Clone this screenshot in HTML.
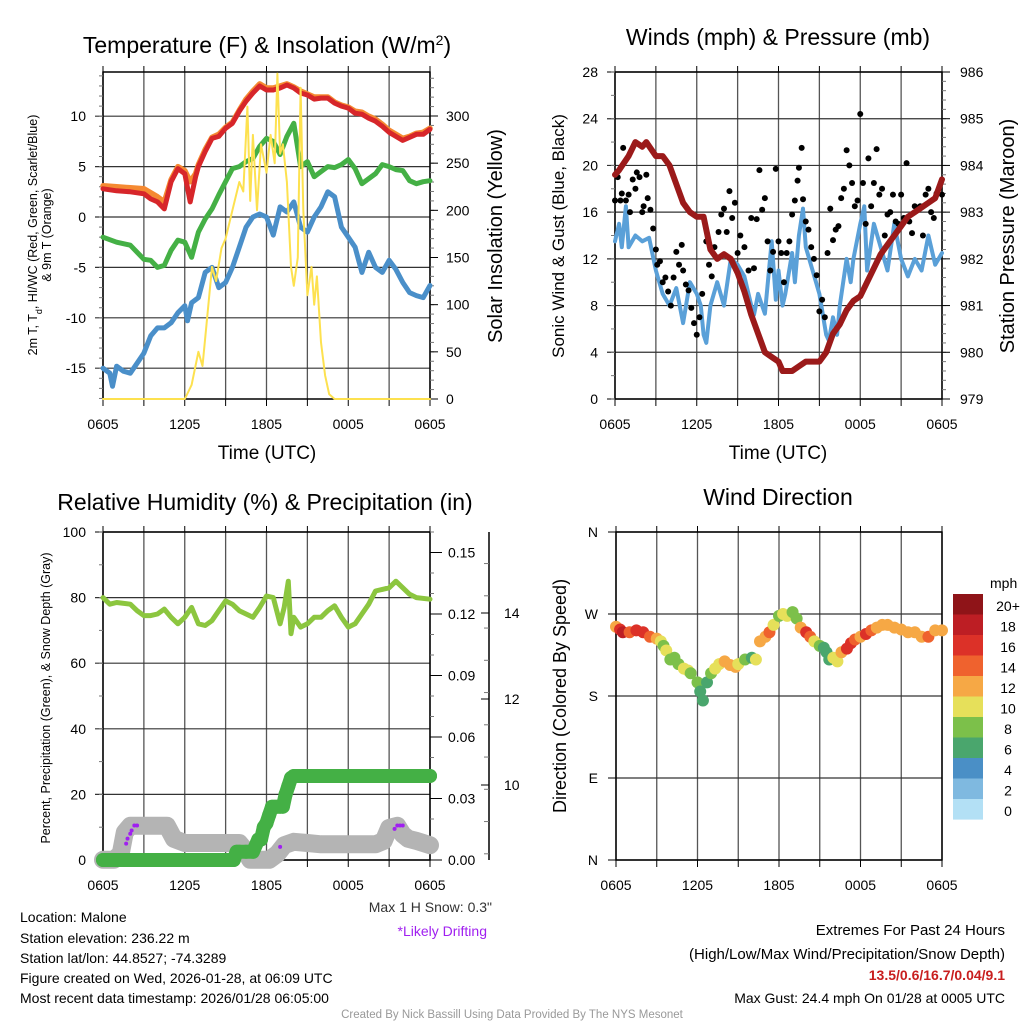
<!DOCTYPE html>
<html><head><meta charset="utf-8"><style>
html,body{margin:0;padding:0;background:#fff}
svg{display:block;font-family:"Liberation Sans",sans-serif}
</style></head><body>
<svg id="c" width="1024" height="1024" viewBox="0 0 1024 1024">
<text x="267" y="53" font-size="23" text-anchor="middle">Temperature (F) &amp; Insolation (W/m<tspan baseline-shift="super" font-size="14">2</tspan>)</text>
<text x="778" y="45" font-size="23" text-anchor="middle">Winds (mph) &amp; Pressure (mb)</text>
<text x="265" y="510" font-size="23" text-anchor="middle">Relative Humidity (%) &amp; Precipitation (in)</text>
<text x="778" y="505" font-size="23" text-anchor="middle">Wind Direction</text>
<text x="267" y="459" font-size="19" text-anchor="middle">Time (UTC)</text>
<text x="778" y="459" font-size="19" text-anchor="middle">Time (UTC)</text>
<text transform="translate(37,235) rotate(-90)" font-size="12.5" text-anchor="middle"><tspan x="0" dy="0">2m T, T<tspan baseline-shift="sub" font-size="9">d</tspan>, HI/WC (Red, Green, Scarlet/Blue)</tspan><tspan x="0" dy="14">&amp; 9m T (Orange)</tspan></text>
<text transform="translate(502,236) rotate(-90)" font-size="20" text-anchor="middle">Solar Insolation (Yellow)</text>
<text transform="translate(564,236) rotate(-90)" font-size="17" text-anchor="middle">Sonic Wind &amp; Gust (Blue, Black)</text>
<text transform="translate(1014,236) rotate(-90)" font-size="20" text-anchor="middle">Station Pressure (Maroon)</text>
<text transform="translate(50,698) rotate(-90)" font-size="12.5" text-anchor="middle">Percent, Precipitation (Green), &amp; Snow Depth (Gray)</text>
<text transform="translate(566,696) rotate(-90)" font-size="18" text-anchor="middle">Direction (Colored By Speed)</text>
<text x="492" y="912" font-size="14" text-anchor="end" fill="#333">Max 1 H Snow: 0.3"</text>
<text x="487" y="936" font-size="14" text-anchor="end" fill="#a020f0">*Likely Drifting</text>
<g font-size="14">
<text x="20" y="922">Location: Malone</text>
<text x="20" y="943">Station elevation: 236.22 m</text>
<text x="20" y="963">Station lat/lon: 44.8527; -74.3289</text>
<text x="20" y="983">Figure created on Wed, 2026-01-28, at 06:09 UTC</text>
<text x="20" y="1003">Most recent data timestamp: 2026/01/28 06:05:00</text>
</g>
<g font-size="15" text-anchor="end">
<text x="1005" y="935">Extremes For Past 24 Hours</text>
<text x="1005" y="959">(High/Low/Max Wind/Precipitation/Snow Depth)</text>
<text x="1005" y="980" fill="#c81e1e" font-weight="bold" font-size="14">13.5/0.6/16.7/0.04/9.1</text>
<text x="1005" y="1003" font-size="14">Max Gust: 24.4 mph On 01/28 at 0005 UTC</text>
</g>
<text x="512" y="1018" font-size="11.5" fill="#999" text-anchor="middle">Created By Nick Bassill Using Data Provided By The NYS Mesonet</text>
<text x="990" y="588" font-size="14">mph</text>
</svg>
<script>
// ---- data ----
const xTickLabels = ['0605','1205','1805','0005','0605'];
const tempHours = [0,1,2,3,3.5,4,4.5,5,5.5,6,6.4,6.8,7,7.5,8,8.5,9,9.5,10,10.5,11,11.5,12,12.5,13,13.5,14,14.5,15,15.5,16,16.5,17,17.5,18,18.5,19,19.5,20,20.5,21,21.5,22,22.5,23,23.5,24];
const temp2m = [2.8,2.6,2.5,2.3,1.8,1.5,0.8,3.5,4.8,4.3,1.5,4.0,5.0,6.5,7.8,8.0,8.8,9.3,10.5,11.5,12.3,13.0,12.6,12.6,12.8,13.1,12.8,12.3,12.1,11.7,11.8,11.8,11.3,11.0,10.8,10.3,10.2,9.8,9.5,9.0,8.4,8.0,7.6,7.9,8.2,8.2,8.7];
const temp9m = [3.1,3.0,2.9,2.8,2.4,2.0,1.5,3.7,5.0,4.6,3.5,4.3,5.2,6.7,7.9,8.2,8.9,9.4,10.6,11.7,12.5,13.2,12.8,12.8,13.0,13.2,12.9,12.5,12.2,11.9,11.9,11.9,11.4,11.1,10.9,10.5,10.4,10.0,9.7,9.2,8.6,8.2,7.8,8.0,8.3,8.4,8.8];
const dewHours = [0,1,2,3,3.5,4,4.5,5,5.5,6,6.5,7,7.5,8,8.5,9,9.5,10,10.5,11,11.5,12,12.5,13,13.5,14,14.5,15,15.5,16,16.5,17,17.5,18,18.5,19,19.5,20,20.5,21,21.5,22,22.5,23,23.5,24];
const dewpoint = [-2,-2.5,-2.8,-4.2,-4.3,-5,-4.8,-3.3,-2.3,-2.5,-4,-1.5,-0.2,0.8,2.2,3.5,4.8,5,5.5,5.8,7,7.8,7.5,6.2,8,9.3,5,5.5,4,4.5,5,4.9,5.2,5.7,4.8,3.3,3.8,4.3,5.2,5,4.7,4.6,3.6,3.3,3.5,3.6];
const wcHours = [0,0.5,0.7,1,1.5,2,2.5,3,3.5,4,4.5,5,5.5,6,6.2,6.5,7,7.5,8,8.5,9,9.5,10,10.5,11,11.5,12,12.5,13,13.5,14,14.5,15,15.5,16,16.5,17,17.5,18,18.5,19,19.5,20,20.5,21,21.5,22,22.5,23,23.5,24];
const windChill = [-15,-15.5,-16.8,-14.8,-15.3,-15.5,-14.5,-13.5,-11.8,-11,-11,-10.5,-9.5,-8.8,-10.3,-8.5,-8,-5.5,-5,-7,-6.5,-5,-3,-1,0,0.3,0,-1.8,1,0.5,1.5,-1,-1.5,0,1,2.5,2,-1,-2,-3,-5.5,-3.5,-5,-5.5,-4.3,-5.2,-6.5,-7.5,-7.8,-8,-6.8];
const solHours = [0,6,6.5,7,7.3,7.6,8,8.3,8.7,9,9.5,10,10.3,10.6,10.8,11,11.3,11.6,12,12.3,12.6,12.8,13,13.2,13.5,13.8,14,14.3,14.5,14.7,15,15.3,15.5,15.7,16,16.3,16.6,17,24];
const insolation = [0,0,15,50,35,80,140,125,160,170,200,230,220,310,210,280,200,270,240,280,250,345,260,270,230,140,120,150,330,200,110,140,100,130,60,25,5,0,0];
const sonicHours = [0,0.3,0.5,0.8,1,1.5,2,2.5,3,3.5,4,4.5,5,5.5,6,6.3,6.5,6.7,7,7.5,8,8.5,9,9.5,10,10.2,10.5,11,11.5,11.8,12,12.3,12.5,13,13.2,13.5,13.8,14,14.5,15,15.5,15.7,16,16.3,16.5,17,17.3,17.5,18,18.3,18.5,19,19.5,20,20.5,21,21.5,22,22.5,23,23.5,24];
const sonicWind = [13.5,15,13,16.5,13,14,13.5,13.8,11,9,8,9.5,6.5,10,9,8,5.5,4.8,8,10,8,12,11.5,10.5,8,7.2,9,7.3,13.5,8.5,11,8,9,12.5,10,14,16.3,13,11,9,5.5,5,7,5.5,8,12,10,12,15,16.5,11,15,13,11,15,12,10.5,12,11,14,11.5,12.5];
const gustHours = [0,0.2,0.4,0.5,0.6,0.8,1,1.1,1.3,1.5,1.6,1.8,2,2.1,2.3,2.4,2.6,2.8,3,3.1,3.3,3.5,3.7,3.9,4.1,4.3,4.5,4.7,4.9,5,5.2,5.4,5.6,5.8,6,6.2,6.4,6.7,6.9,7.1,7.3,7.6,7.8,8,8.2,8.4,8.6,8.8,9,9.2,9.5,9.8,10,10.2,10.4,10.6,10.8,11,11.2,11.4,11.6,11.8,12,12.2,12.4,12.6,12.8,13,13.2,13.4,13.5,13.7,13.8,14,14.2,14.4,14.6,14.8,15,15.2,15.4,15.6,15.8,16,16.2,16.4,16.6,16.8,17,17.2,17.4,17.6,17.8,18,18.2,18.4,18.6,18.8,19,19.2,19.4,19.6,19.8,20,20.2,20.4,20.6,20.8,21,21.2,21.4,21.6,21.8,22,22.2,22.4,22.6,22.8,23,23.2,23.4,23.6,24];
const gusts = [17,19,17,17.6,21.5,17,17.5,16,18.8,18,19.4,19,16,16.5,19.2,17.2,16.2,14.6,12.8,11.5,11.8,10,10.4,9.2,8,10.4,12.6,11.5,13.2,11,9.8,9.3,7.8,6.5,5.5,7,9,13.5,11.5,10.5,13,14.3,15.8,16.3,14.3,17.8,15.5,16.8,12.5,14,13,11,15.5,11.2,15.4,19.6,16.2,17.2,13.5,11,12.6,19.7,13.5,12.5,10,12.5,13.5,15.8,17,18.7,19.8,21.5,17.1,15.2,14.5,13,12,10.6,7.5,8.5,7,12.5,16.3,13.6,14.5,14.8,17.2,18,21.3,20,18.5,16.5,17,24.4,18.5,15,20.6,16.5,18.5,21.4,17.5,18,14,15.8,16,17.5,15.2,15,17.5,15.5,20.2,15.2,14.2,16.5,16.2,16.5,14,17.5,18,16,15.5,17.6,17.5];
const presHours = [0,0.3,1,1.5,2,2.3,3,3.5,4,4.5,5,5.5,6,6.5,7,7.5,8,8.5,9,9.5,10,10.5,11,11.5,12,12.3,13,13.5,14,14.5,15,15.5,16,16.5,17,17.5,18,18.5,19,19.5,20,20.5,21,21.5,22,22.5,23,23.5,24];
const pressure = [983.8,983.9,984.2,984.5,984.4,984.5,984.2,984.2,984.0,983.6,983.2,983.0,982.9,982.9,982.2,982.0,982.1,982.0,981.7,981.3,980.8,980.4,980.0,979.9,979.8,979.6,979.6,979.7,979.8,979.8,979.8,980.0,980.4,980.6,980.9,981.1,981.2,981.5,981.8,982.1,982.3,982.5,982.7,982.9,983.0,983.1,983.2,983.3,983.7];
const rhHours = [0,0.5,1,2,2.5,3,3.5,4,4.5,5,5.5,6,6.5,7,7.5,8,8.5,9,9.5,10,10.5,11,11.5,12,12.5,13,13.3,13.6,13.8,14,14.5,15,15.5,16,16.5,17,17.5,18,18.5,19,19.5,20,20.5,21,21.5,22,22.5,23,24];
const relHum = [80,78,78.5,78,76,74.5,74.5,75,76.5,74,72,74,77,72,71.5,73,76,79,78,76,75,74,77,80.5,80,72,77,85,69,74,71,72,74,74,76,77.5,74,71,72,75,78,82,82.5,83,85,83,81,80,79.5];
const precipHours = [0,1,2,3,4,5,6,7,8,9,9.6,9.8,10,10.5,11,11.4,11.6,11.8,12,12.2,12.4,12.6,12.8,13,13.2,13.4,13.6,13.8,14,15,16,17,18,19,20,21,22,23,24];
const precipIn = [0,0,0,0,0,0,0,0,0,0,0,0.004,0.004,0.004,0.004,0.01,0.01,0.016,0.018,0.022,0.026,0.026,0.026,0.026,0.026,0.032,0.036,0.04,0.041,0.041,0.041,0.041,0.041,0.041,0.041,0.041,0.041,0.041,0.041];
const snowHours = [0,0.8,1.3,1.6,2,3,4,4.7,5.2,6,7,8,9,10,10.4,10.8,11.5,12.2,12.8,13.3,14,15,16,17,18,19,20,20.6,21,21.6,22,22.4,23,23.5,24];
const snowDepth = [8.26,8.26,8.4,8.9,9.05,9.05,9.05,9.05,8.75,8.65,8.65,8.65,8.65,8.65,8.5,8.26,8.26,8.26,8.4,8.6,8.68,8.65,8.62,8.62,8.62,8.62,8.62,8.7,9.0,9.05,8.85,8.75,8.7,8.65,8.6];
const driftHours = [1.7,1.8,2.0,2.1,2.3,2.5,13.0,21.4,21.6,21.8,22.0];
const driftPct = [5,6.5,8,9,10.5,10.5,4,9.5,10.5,10.5,10.5];
const dirHours = [0,0.3,0.5,1,1.5,2,2.5,3,3.3,3.5,3.7,4,4.3,4.6,5,5.3,5.5,6,6.2,6.4,6.7,7,7.3,7.6,8,8.4,8.8,9,9.5,10,10.3,10.6,11,11.3,11.6,12,12.3,12.6,13,13.3,13.6,14,14.3,14.6,15,15.3,15.5,15.7,16,16.3,16.6,17,17.3,17.6,18,18.4,18.8,19.2,19.6,20,20.5,21,21.5,22,22.5,23,23.5,24];
const dirDeg = [256,253,250,250,252,250,245,243,240,235,230,220,222,215,210,208,205,195,185,175,195,205,210,215,218,214,212,215,220,222,220,240,245,250,258,268,270,268,272,265,255,250,245,240,235,233,228,220,222,218,228,232,238,242,245,248,252,255,258,258,255,253,250,250,245,245,252,252];
const dirSpeed = [12,16,17,14,15,15,14,12,10,8,10,7,8,8,10,10,8,7,6,5,6,8,10,10,12,12,12,10,8,6,10,11,12,14,9,8,10,9,7,8,12,16,14,10,8,6,5,6,10,10,12,16,16,14,12,16,14,12,11,12,12,12,12,11,12,14,12,12];
const cbLabels = ['20+','18','16','14','12','10','8','6','4','2','0'];
const cbColors = ['#8f1418','#bd1e24','#dc3128','#ef622e','#f6a845','#e6e05a','#7cc04a','#4aa66d','#4a8fc6','#7fb9e0','#b3e0f5'];
const tempTicks = [-15,-10,-5,0,5,10];
const solTicks = [0,50,100,150,200,250,300];
const windTicks = [0,4,8,12,16,20,24,28];
const presTicks = [979,980,981,982,983,984,985,986];
const rhTicks = [0,20,40,60,80,100];
const precTicks = ['0.00','0.03','0.06','0.09','0.12','0.15'];
const snowTicks = [10,12,14];
const dirTicks = ['N','E','S','W','N'];

// ---- drawing ----
const NS='http://www.w3.org/2000/svg';
const svg=document.getElementById('c');
function mk(tag,attrs,parent){const e=document.createElementNS(NS,tag);for(const k in attrs)e.setAttribute(k,attrs[k]);(parent||svg).appendChild(e);return e;}
function lin(d0,d1,r0,r1){return v=>r0+(v-d0)*(r1-r0)/(d1-d0);}
function poly(xs,ys,fx,fy,color,w,name){
  const pts=xs.map((h,i)=>fx(h).toFixed(1)+','+fy(ys[i]).toFixed(1)).join(' ');
  const e=mk('polyline',{points:pts,fill:'none',stroke:color,'stroke-width':w,'stroke-linejoin':'round','stroke-linecap':'round'});
  
  
  return e;
}
function frame(x0,x1,y0,y1,name,fy,hticks){
  const g=mk('g',{});
  
  
  const fx=lin(0,24,x0,x1);
  for(let h=0;h<=24;h+=3){
    const l=mk('line',{x1:fx(h),x2:fx(h),y1:y0,y2:y1,stroke:'#555','stroke-width':1.3},g);
    
    
    const t=mk('line',{x1:fx(h),x2:fx(h),y1:y0-6,y2:y0,stroke:'#000','stroke-width':1},g);
    
    
    const b=mk('line',{x1:fx(h),x2:fx(h),y1:y1,y2:y1+7,stroke:'#000','stroke-width':1},g);
    
    
  }
  hticks.forEach(v=>{
    const l=mk('line',{x1:x0-8,x2:x1,y1:fy(v),y2:fy(v),stroke:'#333','stroke-width':1.2},g);
    
    
  });
  const r=mk('rect',{x:x0,y:y0,width:x1-x0,height:y1-y0,fill:'none',stroke:'#000','stroke-width':1.5},g);
  
  
  xTickLabels.forEach((s,i)=>{
    const t=mk('text',{x:fx(i*6),y:y1+30,'font-size':14,'text-anchor':'middle'},g);
    t.textContent=s;
    
    
  });
  return fx;
}
function ylabels(vals,texts,fy,x,anchor,name,size){
  vals.forEach((v,i)=>{
    const t=mk('text',{x:x,y:fy(v)+5,'font-size':size||14,'text-anchor':anchor});
    t.textContent=texts?texts[i]:v;
    
    
  });
}
function minor(x,dir,from,to,step,fy,len){
  for(let v=from;v<=to+1e-9;v+=step){
    const l=mk('line',{x1:x,x2:x+dir*len,y1:fy(v),y2:fy(v),stroke:'#777','stroke-width':1});
    
    
  }
}

// Panel 1: temperature
const fyT=lin(0,10,217,116.2), fyS=lin(0,300,399,116);
const fx1=frame(103,430,72,399,'temp-panel',fyT,tempTicks);
minor(103,-1,-18,14,1,fyT,4);
minor(430,1,0,340,10,fyS,4);
solTicks.forEach(v=>{const l=mk('line',{x1:430,x2:438,y1:fyS(v),y2:fyS(v),stroke:'#000'});});
ylabels(tempTicks,null,fyT,86,'end','temp-tick-label');
ylabels(solTicks,null,fyS,446,'start','insolation-tick-label');
poly(tempHours,temp9m,fx1,fyT,'#f58a32',5.5,'temp-9m-line');
poly(tempHours,temp2m,fx1,fyT,'#d7262a',5,'temp-2m-line');
poly(dewHours,dewpoint,fx1,fyT,'#44b045',5,'dewpoint-line');
poly(wcHours,windChill,fx1,fyT,'#4a8fc9',5,'windchill-line');
poly(solHours,insolation,fx1,fyS,'#fde14f',2,'insolation-line');

// Panel 2: wind
const fyW=lin(0,28,399,72), fyP=lin(979,986,399,72);
const fx2=frame(615,942,72,399,'wind-panel',fyW,windTicks);
minor(615,-1,0,28,2,fyW,4);
minor(942,1,979,986,0.2,fyP,4);
presTicks.forEach(v=>{const l=mk('line',{x1:942,x2:950,y1:fyP(v),y2:fyP(v),stroke:'#000'});});
ylabels(windTicks,null,fyW,598,'end','wind-tick-label');
ylabels(presTicks,null,fyP,960,'start','pressure-tick-label');
poly(sonicHours,sonicWind,fx2,fyW,'#5aa0d8',4,'sonic-wind-line');
gustHours.forEach((h,i)=>{
  const c=mk('circle',{cx:fx2(h),cy:fyW(gusts[i]),r:3,fill:'#000'});
  
  
});
poly(presHours,pressure,fx2,fyP,'#9b1a1a',6,'pressure-line');

// Panel 3: RH
const fyR=lin(0,100,860,532), fyPr=lin(0,0.16,860,532), fySn=lin(10,12,785,699);
const fx3=frame(103,430,532,860,'rh-panel',fyR,rhTicks);
minor(103,-1,0,100,10,fyR,4);
minor(430,1,0,0.16,0.01,fyPr,4);
precTicks.forEach(v=>{const l=mk('line',{x1:430,x2:442,y1:fyPr(+v),y2:fyPr(+v),stroke:'#000'});});
ylabels(rhTicks,null,fyR,86,'end','rh-tick-label');
ylabels(precTicks.map(Number),precTicks,fyPr,448,'start','precip-tick-label');
const sa=mk('line',{x1:489,x2:489,y1:532,y2:860,stroke:'#000','stroke-width':1.5});


minor(489,-1,8.4,15.6,0.75,fySn,5);
snowTicks.forEach(v=>{const l=mk('line',{x1:489,x2:481,y1:fySn(v),y2:fySn(v),stroke:'#000'});});
ylabels(snowTicks,null,fySn,504,'start','snow-tick-label');
poly(snowHours,snowDepth,fx3,fySn,'#b4b4b4',18,'snow-depth-line');
poly(rhHours,relHum,fx3,fyR,'#8cc63f',5,'rh-line');
precipHours.forEach((h,i)=>{
  const c=mk('circle',{cx:fx3(h),cy:fyPr(precipIn[i]),r:7,fill:'#44b045'});
  
  
});
poly(precipHours,precipIn,fx3,fyPr,'#44b045',14,'precip-line');
driftHours.forEach((h,i)=>{
  const c=mk('circle',{cx:fx3(h),cy:fyR(driftPct[i]),r:2,fill:'#a020f0'});
  
  
});

// Panel 4: wind direction
const fyD=lin(0,360,860,532);
const fx4=frame(616,942,532,860,'dir-panel',fyD,[0,90,180,270,360]);
ylabels([0,90,180,270,360],dirTicks,fyD,598,'end','dir-tick-label');
function spdColor(s){let k=Math.min(10,Math.floor(s/2+0.5));return cbColors[10-k];}
dirHours.forEach((h,i)=>{
  const c=mk('circle',{cx:fx4(h),cy:fyD(dirDeg[i]),r:6,fill:spdColor(dirSpeed[i])});
  
  
});
cbColors.forEach((col,i)=>{
  const r=mk('rect',{x:953,y:594+i*20.5,width:30,height:20.6,fill:col});
  
  
  const t=mk('text',{x:1008,y:594+i*20.5+17,'font-size':14,'text-anchor':'middle'});
  t.textContent=cbLabels[i];
  
  
});
</script>
</body></html>
